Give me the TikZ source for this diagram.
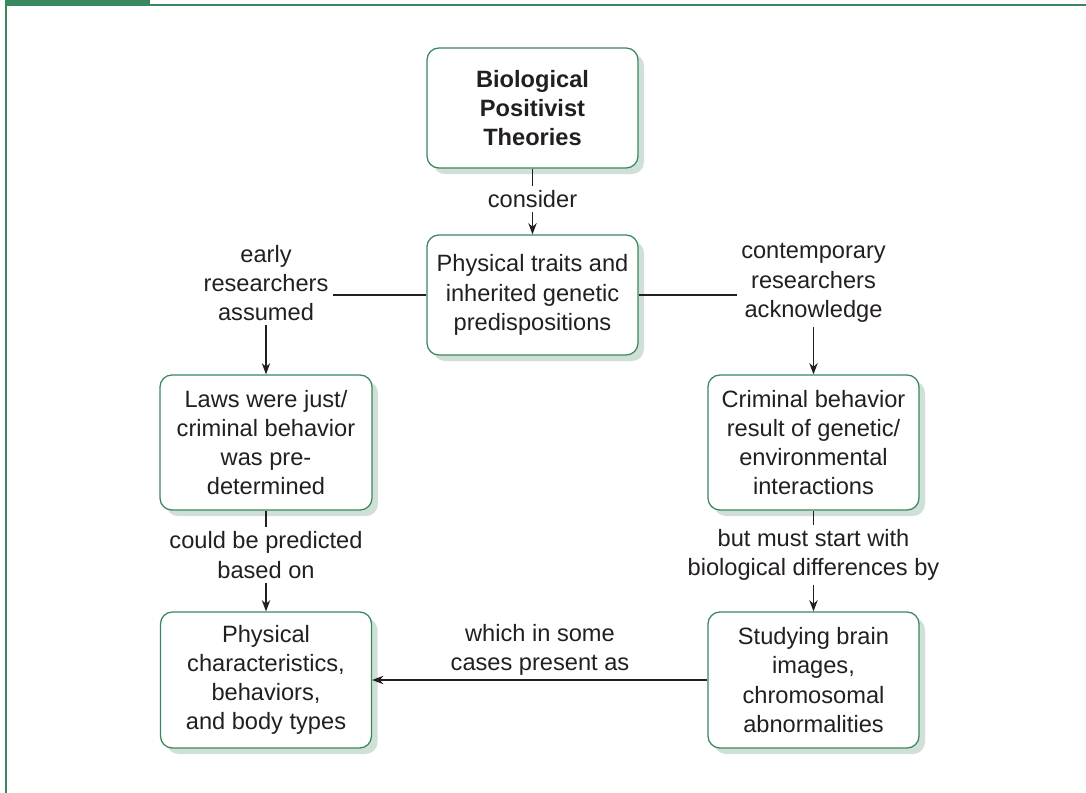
\documentclass[tikz,border=0pt]{standalone}
\usepackage{fontspec}
\setmainfont{Liberation Sans}
\usetikzlibrary{arrows.meta,shadows}
\definecolor{framegreen}{RGB}{58,135,95}
\definecolor{shadegreen}{RGB}{208,224,215}
\definecolor{inkgray}{RGB}{35,31,32}
\tikzset{
  conceptbox/.style={draw=framegreen, line width=0.9pt, rounded corners=0.3cm, fill=white,
    align=center, inner sep=2pt, text=inkgray,
    drop shadow={shadow xshift=0.15cm, shadow yshift=-0.15cm, fill=shadegreen, opacity=1}},
  linklabel/.style={align=center, inner sep=3pt, text=inkgray},
  link/.style={draw=inkgray, line width=0.75pt}
}
\begin{document}
\begin{tikzpicture}[x=0.025cm, y=-0.025cm, >={Stealth[length=8pt,width=6pt]},
    font=\fontsize{16.8}{20.8}\selectfont]
    \useasboundingbox (0,0) rectangle (1086,793);
    % frame
    \fill[framegreen] (5,0) rectangle (150,6);
    \draw[framegreen, line width=1.2pt] (150,5) -- (1086,5);
    \draw[framegreen, line width=1.4pt] (6,0) -- (6,793);

    \node[conceptbox, minimum width=5.275cm, minimum height=3cm] (theory) at (532.5,108)
        {\textbf{Biological}\\\textbf{Positivist}\\\textbf{Theories}};
    \node[conceptbox, minimum width=5.275cm, minimum height=3cm] (traits) at (532.5,295)
        {Physical traits and\\inherited genetic\\predispositions};
    \node[conceptbox, minimum width=5.3cm, minimum height=3.375cm] (laws) at (266,442.5)
        {Laws were just/\\criminal behavior\\was pre-\\determined};
    \node[conceptbox, minimum width=5.275cm, minimum height=3.375cm] (genetic) at (813.5,442.5)
        {Criminal behavior\\result of genetic/\\environmental\\interactions};
    \node[conceptbox, minimum width=5.275cm, minimum height=3.4cm] (bodytypes) at (266,680)
        {Physical\\characteristics,\\behaviors,\\and body types};
    \node[conceptbox, minimum width=5.275cm, minimum height=3.4cm] (brain) at (813.5,680)
        {Studying brain\\images,\\chromosomal\\abnormalities};

    \node[linklabel] (consider) at (532.5,199) {consider};
    \node[linklabel] (early) at (266,283) {early\\researchers\\assumed};
    \node[linklabel] (contemp) at (813.5,283) {contemporary\\researchers\\acknowledge};
    \node[linklabel] (predicted) at (266,555) {could be predicted\\based on};
    \node[linklabel] (startwith) at (813.5,555) {but must start with\\biological differences by};
    \node[linklabel] (present) at (540,650) {which in some\\cases present as};

    \draw[link] (theory) -- (consider);
    \draw[link, ->] (consider) -- (traits);
    \draw[link] (traits.west) -- (traits.west -| early.east);
    \draw[link, ->] (early) -- (laws);
    \draw[link] (traits.east) -- (traits.east -| contemp.west);
    \draw[link, ->] (contemp) -- (genetic);
    \draw[link] (laws) -- (predicted);
    \draw[link, ->] (predicted) -- (bodytypes);
    \draw[link] (genetic) -- (startwith);
    \draw[link, ->] (startwith) -- (brain);
    \draw[link, ->] (brain.west) -- (bodytypes.east);
\end{tikzpicture}
\end{document}
